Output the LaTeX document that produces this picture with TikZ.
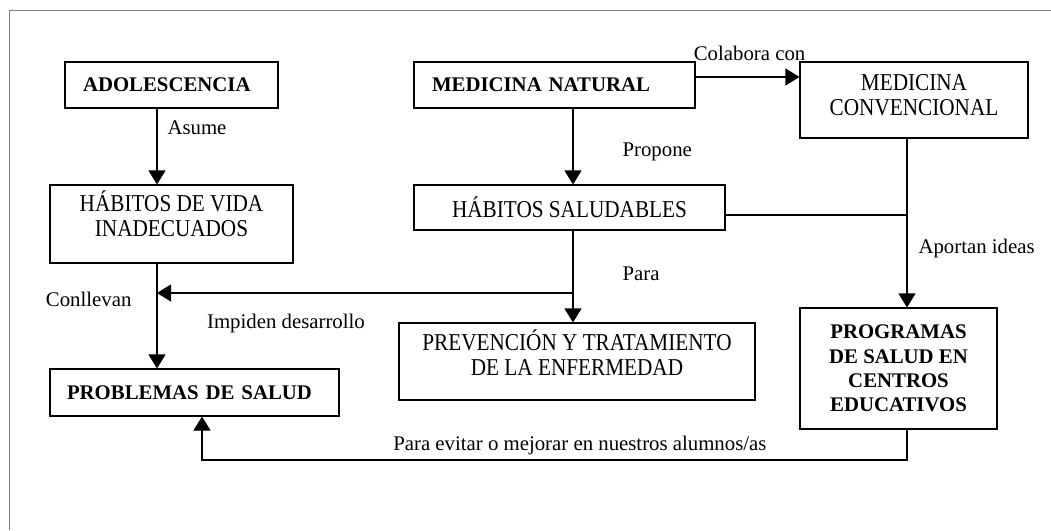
\documentclass[tikz,border=0pt]{standalone}
\usepackage{fontspec}
\setmainfont{Liberation Serif}
\newfontfamily\tallfamily[FakeStretch=0.877]{Liberation Serif}
\usetikzlibrary{arrows.meta}
\newcommand\diagfont{\fontsize{20.8}{24.3}\selectfont}
\newcommand\tallfont{\tallfamily\fontsize{24.2}{25}\selectfont}
\begin{document}
\begin{tikzpicture}[x=1pt,y=-1pt,
  box/.style={draw, line width=1.1pt, inner sep=0pt, align=center, font=\tallfont},
  bbox/.style={box, font=\diagfont\bfseries},
  lbox/.style={draw, line width=1.1pt, inner sep=0pt, align=left, font=\diagfont\bfseries},
  intext/.style={font=\tallfont, align=center, inner sep=0pt},
  conn/.style={line width=1.1pt},
  arr/.style={conn, -{Triangle[length=14pt,width=17pt]}},
  lab/.style={font=\diagfont, inner sep=0pt}
]
\useasboundingbox (0,0) rectangle (1051,530);
\draw[line width=1pt, gray] (9,530) -- (9,10) -- (1051,10);

\coordinate (colA) at (157,0);
\coordinate (colB) at (573,0);
\coordinate (colC) at (907,0);
\coordinate (colD) at (202,0);
\coordinate (rowA) at (0,77);
\coordinate (rowB) at (0,215);
\coordinate (rowC) at (0,293);
\coordinate (rowD) at (0,460);

\node[lbox, text width=213pt, minimum height=46pt] (adol) at (171.5,85) {\hspace*{18pt}ADOLESCENCIA};
\node[box, minimum width=243pt, minimum height=78pt,
  label={[intext, yshift=10pt]center:HÁBITOS DE VIDA\\INADECUADOS}] (hvida) at (171.5,224) {};
\node[lbox, text width=281pt, minimum height=46pt] (mnat) at (554.5,85) {\hspace*{18pt}MEDICINA NATURAL};
\node[box, minimum width=311pt, minimum height=45pt] (sal) at (569.5,207.5) {HÁBITOS SALUDABLES};
\node[box, minimum width=228pt, minimum height=76pt,
  label={[intext, yshift=4.5pt]center:MEDICINA\\CONVENCIONAL}] (mconv) at (914,100) {};
\node[box, minimum width=356pt, minimum height=77pt,
  label={[intext, yshift=9pt]center:PREVENCIÓN Y TRATAMIENTO\\DE LA ENFERMEDAD}] (prev) at (577,361.5) {};
\node[bbox, minimum width=197pt, minimum height=121pt] (prog) at (898.5,368.5) {PROGRAMAS\\DE SALUD EN\\CENTROS\\EDUCATIVOS};
\node[lbox, text width=289pt, minimum height=47pt] (prob) at (194.5,392.5) {\hspace*{17pt}PROBLEMAS DE SALUD};

\draw[arr] (adol.south -| colA) -- node[lab, pos=0.25, anchor=west, xshift=10pt] (l1) {Asume} (hvida.north -| colA);
\draw[arr] (hvida.south -| colA) -- node[lab, pos=0.34, anchor=east, xshift=-25pt] (l2) {Conllevan} (prob.north -| colA);
\draw[arr] (mnat.south -| colB) -- node[lab, pos=0.57, anchor=west, xshift=49pt] (l3) {Propone} (sal.north -| colB);
\draw[arr] (sal.south -| colB) -- node[lab, pos=0.47, anchor=west, xshift=49pt] (l4) {Para} (prev.north -| colB);
\draw[arr] (colB |- rowC) -- node[lab, pos=0.69, yshift=-30pt] (l5) {Impiden desarrollo} (colA |- rowC);
\draw[arr] (mnat.east |- rowA) -- node[lab, pos=0.52, yshift=24pt] (l6) {Colabora con} (mconv.west |- rowA);
\draw[conn] (sal.east |- rowB) -- (colC |- rowB);
\draw[arr] (mconv.south -| colC) -- node[lab, pos=0.65, anchor=west, xshift=11pt] (l7) {Aportan ideas} (prog.north -| colC);
\draw[arr] (prog.south -| colC) -- (colC |- rowD) -- node[lab, pos=0.464, yshift=15pt] (l8) {Para evitar o mejorar en nuestros alumnos/as} (colD |- rowD) -- (prob.south -| colD);
\end{tikzpicture}
\end{document}
